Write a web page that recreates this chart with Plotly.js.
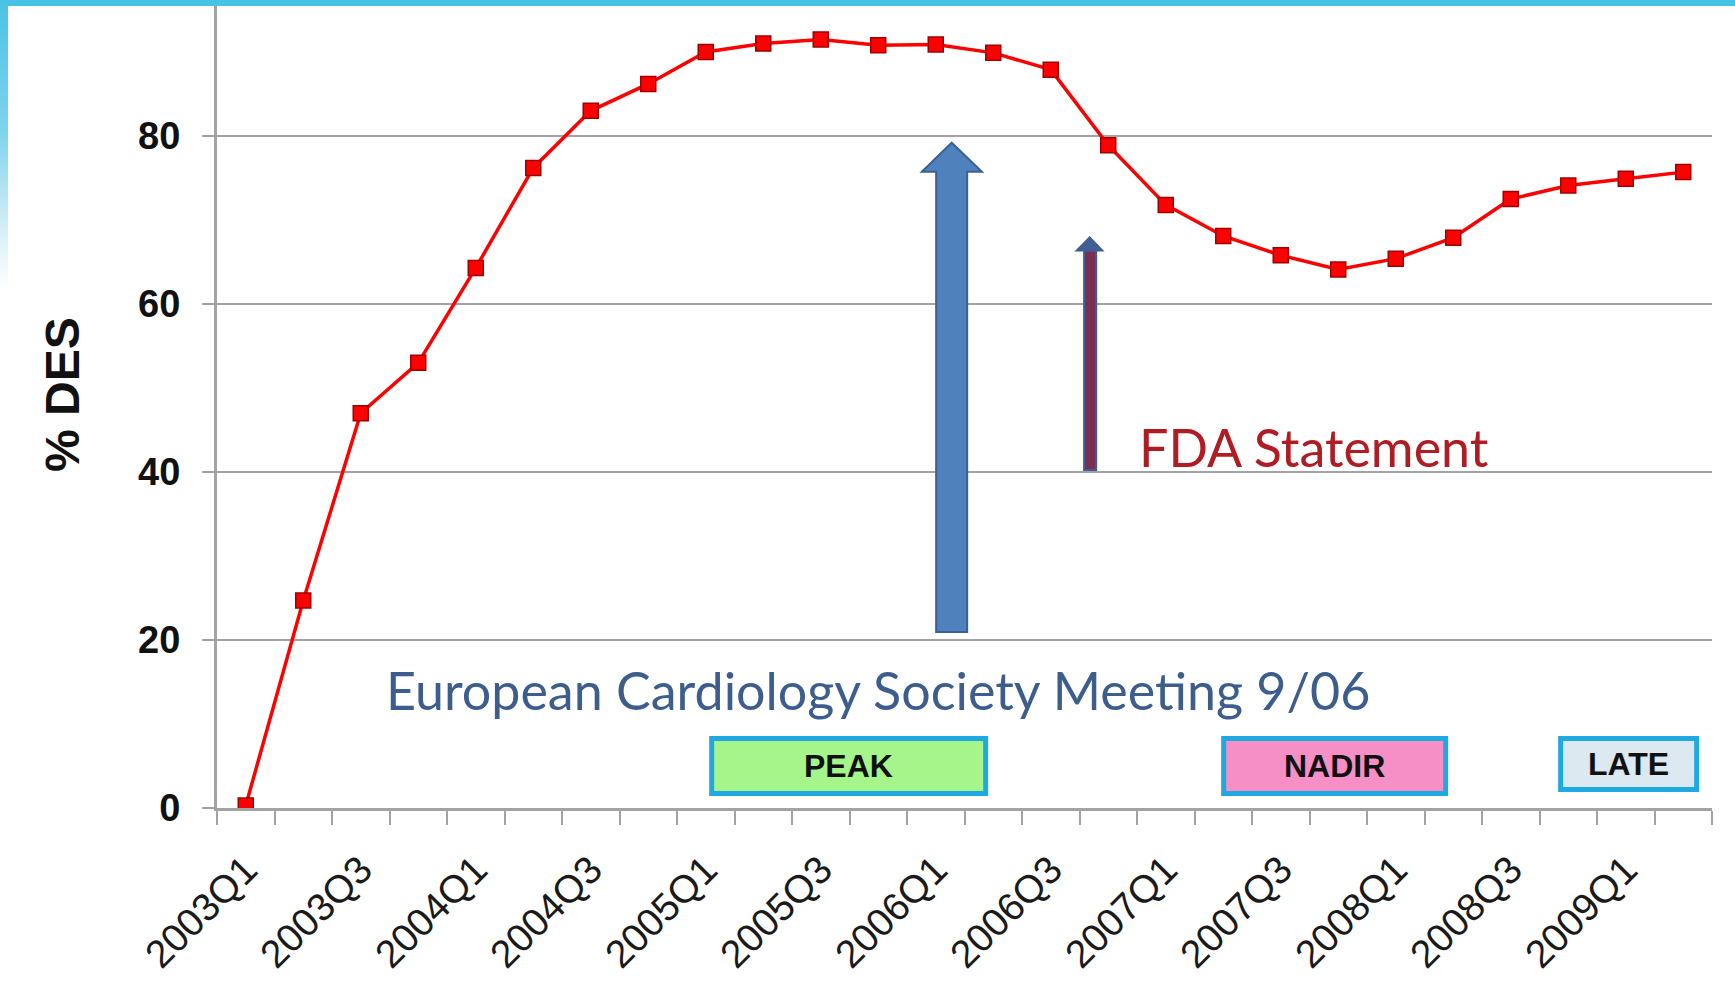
<!DOCTYPE html>
<html>
<head>
<meta charset="utf-8">
<script src="https://cdn.plot.ly/plotly-3.0.1.min.js"></script>
<style>
  html, body { margin: 0; padding: 0; background: #ffffff; }
  #wrap { position: relative; width: 1735px; height: 981px; overflow: hidden; }
  #chart { position: absolute; left: 0; top: 0; width: 1735px; height: 981px; }
  #topbar { position: absolute; left: 0; top: 0; width: 1735px; height: 6px; background: #49c3e4; pointer-events: none; }
  #leftbar { position: absolute; left: 0; top: 0; width: 8px; height: 290px;
             background: linear-gradient(to bottom, #49c3e4 0%, #7fd3ec 45%, #d6f0f8 80%, #ffffff 100%); pointer-events: none; }
</style>
</head>
<body>
<div id="wrap">
  <div id="chart"></div>
  <div id="topbar"></div>
  <div id="leftbar"></div>
</div>
<script>
// ---- data ----
const quarters = [
  "2003Q1","2003Q2","2003Q3","2003Q4",
  "2004Q1","2004Q2","2004Q3","2004Q4",
  "2005Q1","2005Q2","2005Q3","2005Q4",
  "2006Q1","2006Q2","2006Q3","2006Q4",
  "2007Q1","2007Q2","2007Q3","2007Q4",
  "2008Q1","2008Q2","2008Q3","2008Q4",
  "2009Q1","2009Q2"
];
const desPercent = [
  0.3, 24.7, 47.0, 53.0,
  64.3, 76.2, 83.0, 86.2,
  90.0, 91.0, 91.5, 90.8,
  90.9, 89.9, 87.9, 78.9,
  71.8, 68.1, 65.8, 64.1,
  65.4, 67.9, 72.5, 74.1,
  74.9, 75.7
];
const yTickValues = [0, 20, 40, 60, 80];
const phaseLabels = ["PEAK", "NADIR", "LATE"];
const eventLabels = ["European Cardiology Society Meeting 9/06", "FDA Statement"];
const yAxisTitle = "% DES";

// ---- build ----
const xIdx = quarters.map((q, i) => i);
const labelIdx = xIdx.filter(i => i % 2 === 0);
const labelText = labelIdx.map(i => quarters[i]);

const trace = {
  x: xIdx,
  y: desPercent,
  type: "scatter",
  mode: "lines+markers",
  line: { color: "#ff0000", width: 3.5 },
  marker: { symbol: "square", size: 15, color: "#ff0000", line: { color: "#a00000", width: 1.5 } },
  hoverinfo: "skip",
  showlegend: false
};

const gridGray = "#a3a3a3";

const shapes = [
  // phase boxes
  { type: "rect", xref: "x", yref: "y", x0: 8.103, x1: 12.868, y0: 1.726, y1: 8.27,
    fillcolor: "#a6f58a", line: { color: "#1fa9e3", width: 5 } },
  { type: "rect", xref: "x", yref: "y", x0: 17.007, x1: 20.868, y0: 1.726, y1: 8.27,
    fillcolor: "#f78fc7", line: { color: "#1fa9e3", width: 5 } },
  { type: "rect", xref: "x", yref: "y", x0: 22.868, x1: 25.233, y0: 2.2, y1: 8.27,
    fillcolor: "#dde9f0", line: { color: "#1fa9e3", width: 5 } },
  // big blue arrow
  { type: "path", xref: "x", yref: "y",
    path: "M 12.007 20.95 L 12.007 75.75 L 11.758 75.75 L 12.277 79.2 L 12.802 75.75 L 12.546 75.75 L 12.546 20.95 Z",
    fillcolor: "#4f81bd", line: { color: "#3a6094", width: 2 } },
  // small arrow shaft
  { type: "rect", xref: "x", yref: "y", x0: 14.58, x1: 14.79, y0: 40.24, y1: 66.35,
    fillcolor: "#7b2f55", line: { color: "#3f5f92", width: 2 } },
  // small arrow head
  { type: "path", xref: "x", yref: "y",
    path: "M 14.442 66.35 L 14.677 67.98 L 14.906 66.35 Z",
    fillcolor: "#3f5f92", line: { color: "#3f5f92", width: 1.5 } }
];

const boxFont = { family: "Liberation Sans, Arial, sans-serif", size: 32, color: "#111111", weight: "bold" };
const annotations = [
  { xref: "x", yref: "y", x: 10.485, y: 5.0, text: phaseLabels[0], showarrow: false, font: boxFont },
  { xref: "x", yref: "y", x: 18.937, y: 5.0, text: phaseLabels[1], showarrow: false, font: boxFont },
  { xref: "x", yref: "y", x: 24.05, y: 5.24, text: phaseLabels[2], showarrow: false, font: boxFont },
  { xref: "x", yref: "y", x: 11.0, y: 14.0, text: eventLabels[0], showarrow: false,
    font: { family: "Lato, Open Sans, sans-serif", size: 52, color: "#3d5e8c" } },
  { xref: "x", yref: "y", x: 18.57, y: 43.0, text: eventLabels[1], showarrow: false,
    font: { family: "Lato, Open Sans, sans-serif", size: 52, color: "#b01c24" } },
  { xref: "paper", yref: "paper", x: 0, xshift: 62 - 217, xanchor: "center",
    y: 1 - (395 - 6) / 802, yanchor: "middle", text: yAxisTitle, showarrow: false,
    textangle: -90,
    font: { family: "Liberation Sans, Arial, sans-serif", size: 48, color: "#111111", weight: "bold" } }
];

const layout = {
  width: 1735,
  height: 981,
  margin: { l: 217, r: 23, t: 6, b: 173 },
  paper_bgcolor: "#ffffff",
  plot_bgcolor: "#ffffff",
  xaxis: {
    type: "linear",
    range: [-0.5, 25.5],
    tickmode: "array",
    tickvals: labelIdx,
    ticktext: labelText,
    tickangle: -45,
    ticks: "",
    ticklabelstandoff: 20,
    tickfont: { family: "Liberation Sans, Arial, sans-serif", size: 39, color: "#1a1a1a" },
    showgrid: false,
    zeroline: false,
    showline: true,
    linecolor: gridGray,
    linewidth: 3,
    minor: { tickmode: "linear", tick0: -0.5, dtick: 1, ticks: "outside", ticklen: 14, tickwidth: 2, tickcolor: gridGray, showgrid: false }
  },
  yaxis: {
    range: [0, 802 / 8.4],
    tickmode: "array",
    tickvals: yTickValues,
    ticktext: yTickValues.map(String),
    ticks: "outside",
    ticklen: 12,
    tickwidth: 2,
    tickcolor: gridGray,
    ticklabelstandoff: 14,
    tickfont: { family: "Liberation Sans, Arial, sans-serif", size: 38, color: "#111111", weight: "bold" },
    showgrid: true,
    gridcolor: gridGray,
    gridwidth: 2,
    zeroline: false,
    showline: true,
    linecolor: gridGray,
    linewidth: 3
  },
  shapes: shapes,
  annotations: annotations,
  showlegend: false
};

Plotly.newPlot("chart", [trace], layout, { displayModeBar: false, staticPlot: true });
</script>
</body>
</html>
